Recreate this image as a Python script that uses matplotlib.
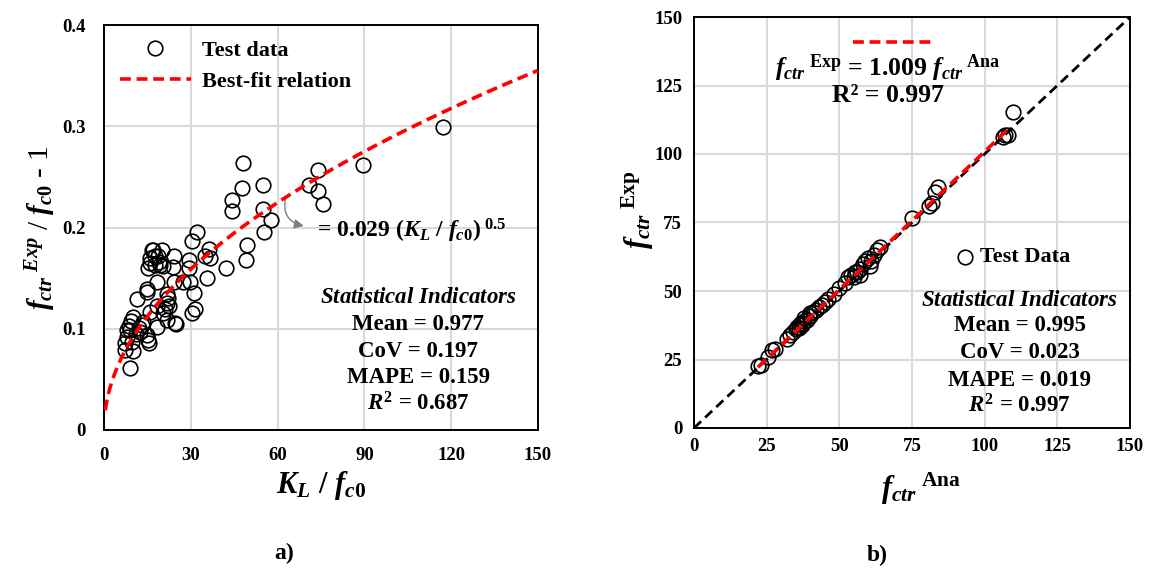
import numpy as np
import matplotlib
matplotlib.use("Agg")
import matplotlib.pyplot as plt

plt.rcParams['font.family'] = ['Liberation Serif', 'DejaVu Serif']
plt.rcParams['font.weight'] = 'bold'
plt.rcParams['mathtext.fontset'] = 'custom'
plt.rcParams['mathtext.rm'] = 'Liberation Serif:bold'
plt.rcParams['mathtext.bf'] = 'Liberation Serif:bold'
plt.rcParams['mathtext.it'] = 'Liberation Serif:bold:italic'

# ---------------- data: panel a ----------------
kl_fc0 = [48.2, 54.8, 47.6, 73.9, 71.0, 73.9, 75.7, 44.2, 44.2, 54.8, 57.8, 55.4,
          49.4, 49.1, 42.2, 35.7, 32.1, 30.3, 36.4, 34.9, 36.7, 29.5, 29.5, 29.8,
          31.1, 31.5, 30.3, 27.4, 24.2, 24.2, 23.8, 20.3, 16.5, 20.0, 18.8, 17.6,
          15.9, 17.6, 15.3, 18.2, 14.8, 14.8, 11.5, 21.7, 21.7, 22.3, 21.1, 20.5,
          18.2, 21.7, 24.6, 18.2, 15.9, 10.1, 13.6, 9.0, 7.8, 12.5, 14.8, 15.3,
          15.7, 9.6, 7.3, 7.3, 10.1, 9.0, 117.0, 89.6, 19.0, 16.0, 8.5, 11.0,
          17.0, 19.5, 13.0, 25.0, 22.0, 8.0, 9.5, 12.0]
ratio = [0.264, 0.242, 0.239, 0.257, 0.242, 0.236, 0.223, 0.227, 0.216, 0.218, 0.207, 0.196,
         0.183, 0.168, 0.160, 0.150, 0.196, 0.187, 0.179, 0.172, 0.170, 0.168, 0.160, 0.146,
         0.135, 0.120, 0.116, 0.146, 0.146, 0.172, 0.161, 0.162, 0.178, 0.178, 0.172, 0.172,
         0.165, 0.163, 0.160, 0.146, 0.139, 0.136, 0.129, 0.134, 0.125, 0.122, 0.120, 0.116,
         0.122, 0.109, 0.106, 0.102, 0.117, 0.112, 0.107, 0.099, 0.099, 0.097, 0.094, 0.089,
         0.086, 0.087, 0.086, 0.079, 0.078, 0.061, 0.299, 0.262, 0.166, 0.170, 0.103, 0.095,
         0.178, 0.163, 0.104, 0.105, 0.130, 0.092, 0.108, 0.101]
fit_coef = 0.029
fit_exp = 0.5

# ---------------- data: panel b ----------------
f_ana = [22, 23, 25.5, 27, 28, 32, 33, 34, 35, 35.5, 36, 36.5, 37, 38, 38, 39, 40, 40,
         41, 42, 43, 44, 45, 46, 48, 50, 52, 53, 54, 55, 56, 57, 57, 58, 59, 60, 61,
         62, 63, 64, 75, 81, 82, 83, 84, 106.4, 107, 108.1, 109.6, 37.5, 39.5, 55.5, 60.5]
f_exp = [22.5, 23, 26, 28.5, 29, 32.5, 34, 35, 36, 37, 36.5, 38, 37.5, 39, 40, 39.5, 41, 42,
         42.5, 43, 44, 45, 46, 47, 49, 51, 53, 55, 56, 55, 57, 58, 56, 60, 61, 62, 61,
         63, 65, 66, 76.5, 81, 82, 86, 88, 106.3, 107, 106.9, 115.4, 38.5, 41, 57, 59]
slope = 1.009

W, H = 1150, 568
fig = plt.figure(figsize=(W / 100, H / 100), dpi=100)

def ax_rect(x0, x1, ytop, ybot):
    return [x0 / W, 1 - ybot / H, (x1 - x0) / W, (ybot - ytop) / H]

grid_c = '#d9d9d9'

# ================= panel a =================
ax1 = fig.add_axes(ax_rect(104, 538, 25, 430))
ax1.set_xlim(0, 150)
ax1.set_ylim(0, 0.4)
ax1.set_xticks([0, 30, 60, 90, 120, 150])
ax1.set_yticks([0, 0.1, 0.2, 0.3, 0.4])
ax1.set_yticklabels(['0', '0.1', '0.2', '0.3', '0.4'])
ax1.grid(True, color=grid_c, lw=1.5)
ax1.set_axisbelow(True)
xx = np.linspace(0.45, 150, 300)
ax1.plot(kl_fc0, ratio, 'o', ms=10.5, mfc='none', mec='black', mew=1.2,
         label='Test data', zorder=3)
ax1.plot(xx, fit_coef * xx ** fit_exp, color='#ff0000', lw=2.6, ls=(0, (3, 1.6)),
         label='Best-fit relation', zorder=4)
leg = ax1.legend(loc='upper left', bbox_to_anchor=(0.0, 1.0), frameon=False,
                 prop={'family': 'Liberation Serif', 'weight': 'bold', 'size': 16},
                 handlelength=3.2, handletextpad=0.5, labelspacing=0.45, borderaxespad=0.3)
ax1.annotate('', xy=(70, 0.201), xytext=(63, 0.232),
             arrowprops=dict(arrowstyle='-|>', color='gray', lw=1.0,
                             connectionstyle='arc3,rad=0.55', mutation_scale=14))
ax1.text(73.5, 0.197, r'= 0.029 ($\mathit{K_L}$ / $\mathit{f_{c0}}$)$^{\ 0.5}$',
         fontsize=17, fontweight='bold', ha='left', va='center')
stats_a = [(r'$\mathit{Statistical\ Indicators}$', 0.131),
           ('Mean = 0.977', 0.104), ('CoV = 0.197', 0.078),
           ('MAPE = 0.159', 0.052), (r'$\mathit{R^{2}}$ = 0.687', 0.026)]
for s, y in stats_a:
    ax1.text(108.6, y, s, fontsize=16.5, fontweight='bold', ha='center', va='center')
ax1.set_xlabel(r'$\mathit{K_L\ /\ f_{c0}}$', fontsize=22, labelpad=4)
ax1.set_ylabel(r'$\mathit{f_{ctr}}^{\ \mathit{Exp}}$ / $\mathit{f_{c0}}$ - 1', fontsize=21)
ax1.yaxis.set_label_coords(-0.106, 0.5)

# ================= panel b =================
ax2 = fig.add_axes(ax_rect(694, 1130, 17, 428))
ax2.set_xlim(0, 150)
ax2.set_ylim(0, 150)
ticks_b = [0, 25, 50, 75, 100, 125, 150]
ax2.set_xticks(ticks_b)
ax2.set_yticks(ticks_b)
ax2.grid(True, color=grid_c, lw=1.5)
ax2.set_axisbelow(True)
ax2.plot([0, 150], [0, 150], color='black', lw=2.0, ls=(0, (3.5, 2)), zorder=2)
ax2.plot(f_ana, f_exp, 'o', ms=10.5, mfc='none', mec='black', mew=1.2, zorder=3)
xl = np.array([min(f_ana), 108])
ax2.plot(xl, slope * xl, color='#ff0000', lw=2.6, ls=(0, (3, 1.6)), zorder=4)
ax2.plot([0.365, 0.545], [0.94, 0.94], transform=ax2.transAxes, color='#ff0000',
         lw=2.6, ls=(0, (3, 1.6)))
ax2.text(0.445, 0.875, r'$\mathit{f_{ctr}}^{\ \mathrm{Exp}}$ = 1.009 $\mathit{f_{ctr}}^{\ \mathrm{Ana}}$',
         transform=ax2.transAxes, fontsize=18.5, ha='center', va='center')
ax2.text(0.445, 0.81, 'R² = 0.997', transform=ax2.transAxes, fontsize=18.5,
         fontweight='bold', ha='center', va='center')
ax2.plot([0.622], [0.417], 'o', transform=ax2.transAxes, ms=10.5, mfc='none',
         mec='black', mew=1.2)
ax2.text(0.655, 0.417, 'Test Data', transform=ax2.transAxes, fontsize=16,
         fontweight='bold', ha='left', va='center')
stats_b = [(r'$\mathit{Statistical\ Indicators}$', 46.5), ('Mean = 0.995', 37.3),
           ('CoV = 0.023', 27.5), ('MAPE = 0.019', 17.5), (r'$\mathit{R^{2}}$ = 0.997', 8)]
for s, y in stats_b:
    ax2.text(112, y, s, fontsize=16.5, fontweight='bold', ha='center', va='center')
ax2.set_xlabel(r'$\mathit{f_{ctr}}^{\ \mathrm{Ana}}$', fontsize=22, labelpad=14)
ax2.xaxis.set_label_coords(0.52, -0.105)
ax2.set_ylabel(r'$\mathit{f_{ctr}}^{\ \mathrm{Exp}}$', fontsize=22)
ax2.yaxis.set_label_coords(-0.088, 0.53)

for ax in (ax1, ax2):
    for sp in ax.spines.values():
        sp.set_linewidth(1.4)
        sp.set_color('black')
    ax.tick_params(length=0, labelsize=13.5)
    for lab in ax.get_xticklabels() + ax.get_yticklabels():
        lab.set_fontweight('bold')
ax1.tick_params(axis='x', pad=12)
ax1.tick_params(axis='y', pad=13)
ax2.tick_params(axis='x', pad=7)
ax2.tick_params(axis='y', pad=8.5)

fig.text(284 / W, 1 - 553 / H, 'a)', fontsize=17, fontweight='bold', ha='center', va='center')
fig.text(877 / W, 1 - 555 / H, 'b)', fontsize=17, fontweight='bold', ha='center', va='center')

fig.savefig('out.png', dpi=100)
